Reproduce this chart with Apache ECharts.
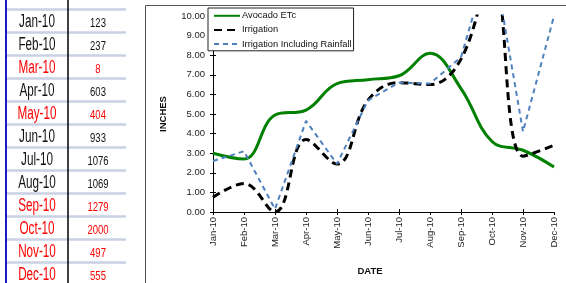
<!DOCTYPE html>
<html><head><meta charset="utf-8">
<script src="https://cdn.jsdelivr.net/npm/echarts@6/dist/echarts.min.js"></script>
<style>html,body{margin:0;padding:0;background:#fff}#c{width:566px;height:283px}</style>
</head><body><div id="c"></div>
<script>
// ---- data ----
var months = ['Jan-10','Feb-10','Mar-10','Apr-10','May-10','Jun-10','Jul-10','Aug-10','Sep-10','Oct-10','Nov-10','Dec-10'];
var tableValues = [123, 237, 8, 603, 404, 933, 1076, 1069, 1279, 2000, 497, 555];
var highlightedMonths = ['Mar-10','May-10','Sep-10','Oct-10','Nov-10','Dec-10'];
var avocadoETc = [3.0, 2.7, 4.95, 5.2, 6.55, 6.75, 6.95, 8.1, 6.3, 3.6, 3.15, 2.3];
var irrigation = [0.75, 1.45, 0.0, 3.7, 2.45, 5.7, 6.6, 6.5, 7.8, 12.2, 2.85, 3.4];
var irrigationRain = [2.6, 3.1, 0.15, 4.65, 2.45, 5.7, 6.6, 6.55, 7.9, 13.3, 4.1, 10.0];
var yMin = 0, yMax = 10, yStep = 1;

var FONT = '"Liberation Sans", Arial, sans-serif';
var chart = echarts.init(document.getElementById('c'), null, {renderer: 'canvas'});

// table graphics
var g = [];
g.push({type:'rect', shape:{x:145.5, y:5.5, width:430, height:300}, style:{fill:'#fff', stroke:'#555', lineWidth:1}, z:-10, silent:true});
for (var k = 0; k <= 12; k++) {
  g.push({type:'line', shape:{x1:7, y1:9.5 + 23*k, x2:126, y2:9.5 + 23*k}, style:{stroke:'#c9d1e2', lineWidth:2.5}, silent:true});
}
g.push({type:'line', shape:{x1:6, y1:0, x2:6, y2:283}, style:{stroke:'#1a1acc', lineWidth:2}, silent:true});
g.push({type:'line', shape:{x1:68, y1:0, x2:68, y2:283}, style:{stroke:'#000', lineWidth:1.5}, silent:true});
months.forEach(function(m, i){
  var col = highlightedMonths.indexOf(m) >= 0 ? '#ff0000' : '#111';
  g.push({type:'text', x:37, y:22 + 23*i, scaleX:0.65, silent:true,
    style:{text:m, font:'18px ' + FONT, fill:col, align:'center', verticalAlign:'middle'}});
  g.push({type:'text', x:98, y:23.5 + 23*i, scaleX:0.73, silent:true,
    style:{text:String(tableValues[i]), font:'13px ' + FONT, fill:col, align:'center', verticalAlign:'middle'}});
});

var axisBase = {
  axisLine:{show:true, lineStyle:{color:'#000', width:1}},
  axisTick:{show:true, length:3, lineStyle:{color:'#000'}},
  splitLine:{show:false}
};

var option = {
  animation:false,
  backgroundColor:'#fff',
  textStyle:{fontFamily:FONT},
  graphic:g,
  grid:{left:213, right:12, top:16, bottom:71, containLabel:false},
  legend:{
    orient:'vertical', left:208, top:8, padding:[3,2,2,5],
    itemWidth:26, itemHeight:12, itemGap:4.5,
    backgroundColor:'#fff', borderColor:'#222', borderWidth:1,
    itemStyle:{opacity:0},
    textStyle:{fontSize:9.3, color:'#111', fontFamily:FONT, padding:[0,0,0,-3]},
    data:['Avocado ETc','Irrigation','Irrigation Including Rainfall']
  },
  xAxis:[
    Object.assign({}, axisBase, {
      type:'category', data:months, boundaryGap:false, position:'bottom',
      axisTick:{show:true, length:3, alignWithLabel:true, lineStyle:{color:'#000'}},
      axisLabel:{rotate:90, fontSize:9.5, color:'#222', margin:5, fontFamily:FONT},
      name:'DATE', nameLocation:'middle', nameGap:54,
      nameTextStyle:{fontWeight:'bold', fontSize:9.5, color:'#111', padding:[0,27,0,0], fontFamily:FONT}
    }),
    {type:'category', data:months, boundaryGap:false, position:'bottom',
     axisLine:{show:false}, axisLabel:{show:false}, splitLine:{show:false},
     axisTick:{show:true, inside:true, length:3, lineStyle:{color:'#000'}}}
  ],
  yAxis:[
    Object.assign({}, axisBase, {
      type:'value', min:yMin, max:yMax, interval:yStep, position:'left',
      axisLabel:{fontSize:9.5, color:'#222', margin:8, fontFamily:FONT,
        formatter:function(v){return v.toFixed(2);}},
      name:'INCHES', nameLocation:'middle', nameGap:45,
      nameTextStyle:{fontWeight:'bold', fontSize:9.5, color:'#111', fontFamily:FONT}
    }),
    {type:'value', min:yMin, max:yMax, interval:yStep, position:'left',
     axisLine:{show:false}, axisLabel:{show:false}, splitLine:{show:false},
     axisTick:{show:true, inside:true, length:3, lineStyle:{color:'#000'}}}
  ],
  series:[
    {name:'Avocado ETc', type:'line', data:avocadoETc, smooth:0.4, symbol:'none', clip:true,
     lineStyle:{color:'#008000', width:3}, itemStyle:{color:'#008000'}, z:3},
    {name:'Irrigation', type:'line', data:irrigation, smooth:0.4, symbol:'none', clip:true,
     lineStyle:{color:'#000', width:3, type:[8,5]}, itemStyle:{color:'#000'}, z:4},
    {name:'Irrigation Including Rainfall', type:'line', data:irrigationRain, smooth:false, symbol:'none', clip:true,
     lineStyle:{color:'#4f81bd', width:2, type:[5,4]}, itemStyle:{color:'#4f81bd'}, z:5}
  ]
};
chart.setOption(option);
</script></body></html>
